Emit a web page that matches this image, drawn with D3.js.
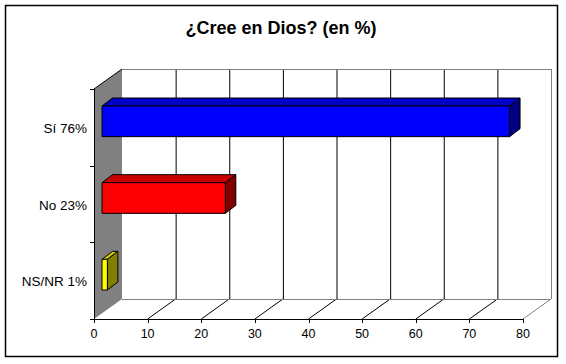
<!DOCTYPE html>
<html><head><meta charset="utf-8">
<script src="https://cdn.jsdelivr.net/npm/d3@7"></script>
<style>body{margin:0;background:#fff}svg{display:block;font-family:Arial,"Liberation Sans",sans-serif}</style>
</head><body><svg id="c" width="566" height="364"></svg>
<script>
const title = "¿Cree en Dios? (en %)";
const categories = ["Sí 76%", "No 23%", "NS/NR 1%"];
const values = [76, 23, 1];
const xTicks = [0, 10, 20, 30, 40, 50, 60, 70, 80];
const frontColors = ["#0000FF", "#FF0000", "#FFFF00"];
const topColors = ["#0000C8", "#C80000", "#C8C800"];
const sideColors = ["#000080", "#800000", "#808000"];

const svg = d3.select("#c");
const W = 566, H = 364;
svg.append("rect").attr("x",5.5).attr("y",5.5).attr("width",552).attr("height",351)
  .attr("fill","#fff").attr("stroke","#000").attr("stroke-width",1.5);

svg.append("text").attr("x",281).attr("y",34).attr("text-anchor","middle")
  .attr("font-size",18).attr("font-weight","bold").text(title);

const x = d3.scaleLinear().domain([0,80]).range([94,523]);
const y = d3.scaleBand().domain(categories).range([89,319]).paddingInner(0.6).paddingOuter(0.3);
const DX = 28, DY = -20;           // wall depth
const BX = 8, BY = -6;             // bar front-plane offset
const bdx = 10.5, bdy = -8;        // bar depth
const yTop = 89, yBot = 319;

// left wall
svg.append("polygon")
  .attr("points", [[x(0),yTop],[x(0)+DX,yTop+DY],[x(0)+DX,yBot+DY],[x(0),yBot]].map(p=>p.join(",")).join(" "))
  .attr("fill","#808080");
svg.append("line").attr("x1",x(0)).attr("y1",yTop).attr("x2",x(0)+DX).attr("y2",yTop+DY).attr("stroke","#000");

// back wall gridlines
xTicks.forEach(v=>{
  if (v===0) return;
  const last = v===80;
  svg.append("line").attr("x1",x(v)+DX+0.5).attr("x2",x(v)+DX+0.5)
    .attr("y1",yTop+DY).attr("y2",yBot+DY).attr("stroke", last?"#808080":"#000");
  svg.append("line").attr("x1",x(v)).attr("y1",yBot).attr("x2",x(v)+DX).attr("y2",yBot+DY)
    .attr("stroke", last?"#808080":"#000");
});
svg.append("line").attr("x1",x(0)+DX).attr("x2",x(80)+DX).attr("y1",yTop+DY+0.5).attr("y2",yTop+DY+0.5).attr("stroke","#808080");
svg.append("line").attr("x1",x(0)+DX).attr("x2",x(80)+DX).attr("y1",yBot+DY+0.5).attr("y2",yBot+DY+0.5).attr("stroke","#808080");

// axes
svg.append("line").attr("x1",x(0)).attr("x2",x(80)).attr("y1",yBot+0.5).attr("y2",yBot+0.5).attr("stroke","#000");
svg.append("line").attr("x1",x(0)+0.5).attr("x2",x(0)+0.5).attr("y1",yTop).attr("y2",yBot).attr("stroke","#000");
xTicks.forEach(v=>{
  svg.append("line").attr("x1",Math.round(x(v))+0.5).attr("x2",Math.round(x(v))+0.5).attr("y1",yBot).attr("y2",yBot+4).attr("stroke","#000");
  svg.append("text").attr("x",x(v)).attr("y",yBot+19).attr("text-anchor","middle").attr("font-size",12.5).text(v);
});
const bounds = [yTop, ...categories.map(c=>y(c)+y.bandwidth()/2+y.step()/2)];
bounds.forEach(b=>{
  svg.append("line").attr("x1",x(0)-4).attr("x2",x(0)).attr("y1",Math.round(b)+0.5).attr("y2",Math.round(b)+0.5).attr("stroke","#000");
});
categories.forEach(c=>{
  svg.append("text").attr("x",87).attr("y",y(c)+y.bandwidth()/2+5.5).attr("text-anchor","end")
    .attr("font-size",13.5).text(c);
});

// bars
categories.forEach((c,i)=>{
  const x0 = x(0)+BX, x1 = x(values[i])+BX;
  const y0 = y(c)+BY, y1 = y0+y.bandwidth();
  const g = svg.append("g").attr("stroke","#000").attr("stroke-width",1).attr("stroke-linejoin","round");
  g.append("polygon").attr("points",[[x0,y0],[x0+bdx,y0+bdy],[x1+bdx,y0+bdy],[x1,y0]].map(p=>p.join(",")).join(" ")).attr("fill",topColors[i]);
  g.append("polygon").attr("points",[[x1,y0],[x1+bdx,y0+bdy],[x1+bdx,y1+bdy],[x1,y1]].map(p=>p.join(",")).join(" ")).attr("fill",sideColors[i]);
  g.append("rect").attr("x",x0).attr("y",y0).attr("width",x1-x0).attr("height",y1-y0).attr("fill",frontColors[i]);
});
</script></body></html>
